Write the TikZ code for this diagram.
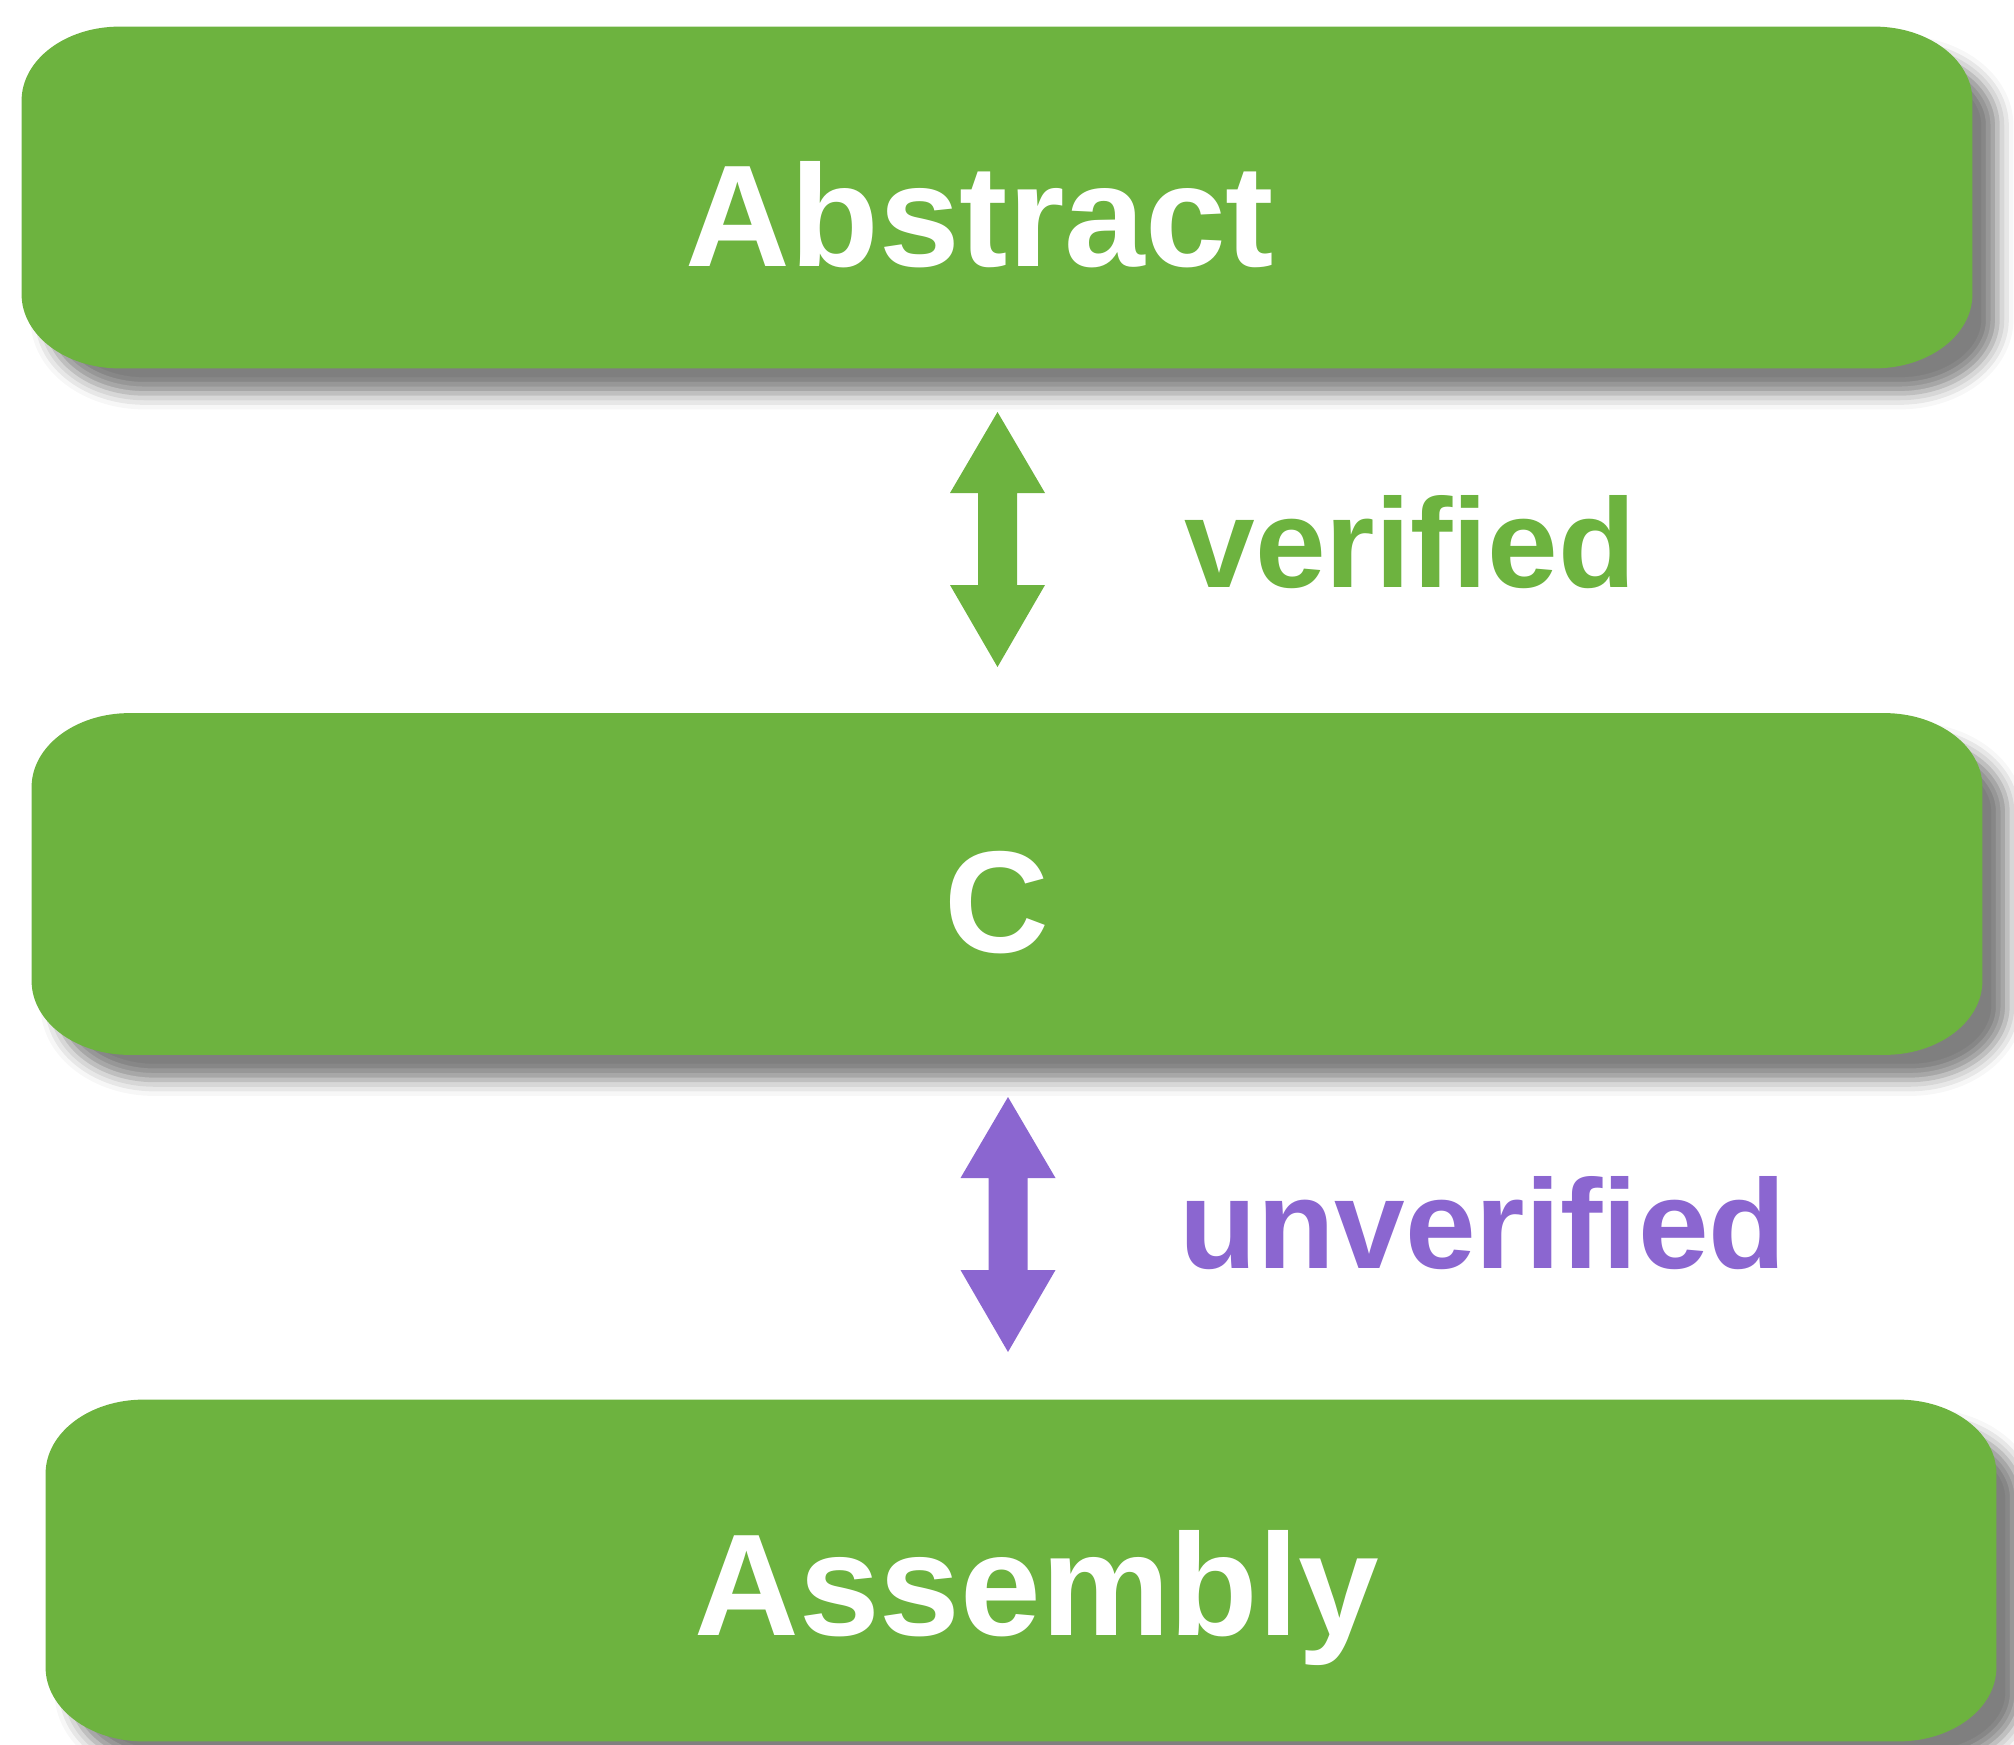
\documentclass[tikz,border=0pt]{standalone}
\usepackage{fontspec}
\setmainfont{Liberation Sans}
\usetikzlibrary{shadows.blur}
\definecolor{boxgreen}{RGB}{109,179,63}
\definecolor{arrpurple}{RGB}{139,102,208}
\tikzset{
  boxnode/.style={rectangle, draw=none, inner sep=0pt, minimum width=975pt, minimum height=170.5pt},
  boxfill/.style={fill=boxgreen, blur shadow={shadow xshift=12.5pt, shadow yshift=-12.5pt, shadow blur radius=8pt, shadow opacity=50}},
  boxtext/.style={text=white, font=\bfseries\fontsize{72.5pt}{80pt}\selectfont, inner sep=0pt, anchor=base},
  labeltext/.style={font=\bfseries\fontsize{63.5pt}{70pt}\selectfont, inner sep=0pt, anchor=base west}
}
\newcommand\greenbox[3]{%
  \node[boxnode] (#1) at (#2,#3) {};
  \path[boxfill]
    ([xshift=49pt]#1.north west) -- ([xshift=-49pt]#1.north east)
    arc[start angle=90, end angle=0, x radius=49pt, y radius=37pt]
    -- ([yshift=37pt]#1.south east)
    arc[start angle=0, end angle=-90, x radius=49pt, y radius=37pt]
    -- ([xshift=49pt]#1.south west)
    arc[start angle=270, end angle=180, x radius=49pt, y radius=37pt]
    -- ([yshift=-37pt]#1.north west)
    arc[start angle=180, end angle=90, x radius=49pt, y radius=37pt]
    -- cycle;
}
\newcommand\dblarrow[2]{%
  \fill[#2] (#1) ++(0,-127.5) -- ++(47.5,81) -- ++(-28,0) -- ++(0,92) -- ++(28,0)
    -- ++(-47.5,82) -- ++(-47.5,-82) -- ++(28,0) -- ++(0,-92) -- ++(-28,0) -- cycle;
}
\begin{document}
\begin{tikzpicture}[x=0.5pt, y=-0.5pt]
\useasboundingbox (0,0) rectangle (2014,1745);

\greenbox{abs}{997}{197.5}
\greenbox{cl}{1007}{884}
\greenbox{asm}{1021}{1570.5}

\node[boxtext] (tabs) at (980,266) {Abstract};
\node[boxtext] (tc) at (997,952) {C};
\node[boxtext] (tasm) at (1037,1635) {Assembly};

\coordinate (a1) at (997.5,539.5);
\coordinate (a2) at (1008,1224.5);
\dblarrow{a1}{boxgreen}
\dblarrow{a2}{arrpurple}

\node[labeltext, text=boxgreen] (lv) at (1184,587) {verified};
\node[labeltext, text=arrpurple] (lu) at (1179,1268) {unverified};
\end{tikzpicture}
\end{document}
